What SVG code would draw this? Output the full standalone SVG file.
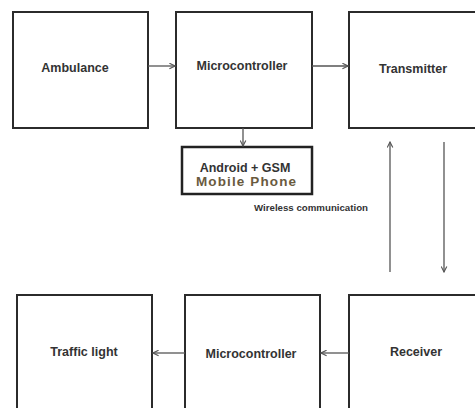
<svg xmlns="http://www.w3.org/2000/svg" width="475" height="408" viewBox="0 0 475 408">
<style>
.box{fill:#fff;stroke:#2b2b2b;stroke-width:2}
.lbl{font-family:"Liberation Sans",Arial,sans-serif;font-weight:bold;font-size:12.5px;fill:#333;text-anchor:middle}
.con{stroke:#555;stroke-width:1.3;fill:none}
</style>
<defs>
<marker id="ah" viewBox="0 0 10 10" refX="9" refY="5" markerWidth="7" markerHeight="7" markerUnits="userSpaceOnUse" orient="auto">
<path d="M1,1 L9,5 L1,9" fill="none" stroke="#555" stroke-width="1.6"/>
</marker>
</defs>
<rect width="475" height="408" fill="#fff"/>
<g id="ambulance"><rect class="box" x="13" y="12" width="135" height="116"/><text class="lbl" x="75" y="72">Ambulance</text></g>
<g id="microcontroller1"><rect class="box" x="176" y="12" width="136" height="116"/><text class="lbl" x="242" y="70">Microcontroller</text></g>
<g id="transmitter"><rect class="box" x="349" y="12" width="140" height="116"/><text class="lbl" x="413" y="73">Transmitter</text></g>
<g id="phone"><rect x="182" y="147" width="130" height="47" fill="#fff" stroke="#222" stroke-width="2.5"/><text class="lbl" x="245" y="172">Android + GSM</text><text class="lbl" x="246" y="186" style="fill:#6a5a3e;font-size:13.5px" textLength="100" lengthAdjust="spacing">Mobile Phone</text></g>
<g id="trafficlight"><rect class="box" x="17" y="295" width="135" height="130"/><text class="lbl" x="84" y="356">Traffic light</text></g>
<g id="microcontroller2"><rect class="box" x="185" y="295" width="135" height="130"/><text class="lbl" x="251" y="358">Microcontroller</text></g>
<g id="receiver"><rect class="box" x="349" y="295" width="140" height="130"/><text class="lbl" x="416" y="356">Receiver</text></g>
<text x="311" y="211" font-family="'Liberation Sans',Arial,sans-serif" font-weight="bold" font-size="8.5px" fill="#333" text-anchor="middle" textLength="114" lengthAdjust="spacingAndGlyphs">Wireless communication</text>
<g id="connectors">
<line class="con" x1="148" y1="66" x2="175" y2="66" marker-end="url(#ah)"/>
<line class="con" x1="312" y1="66" x2="348" y2="66" marker-end="url(#ah)"/>
<line class="con" x1="243" y1="128" x2="243" y2="146" marker-end="url(#ah)"/>
<line class="con" x1="390" y1="272" x2="390" y2="142" marker-end="url(#ah)"/>
<line class="con" x1="444" y1="142" x2="444" y2="272" marker-end="url(#ah)"/>
<line class="con" x1="349" y1="353" x2="321" y2="353" marker-end="url(#ah)"/>
<line class="con" x1="185" y1="353" x2="153" y2="353" marker-end="url(#ah)"/>
</g>
</svg>
